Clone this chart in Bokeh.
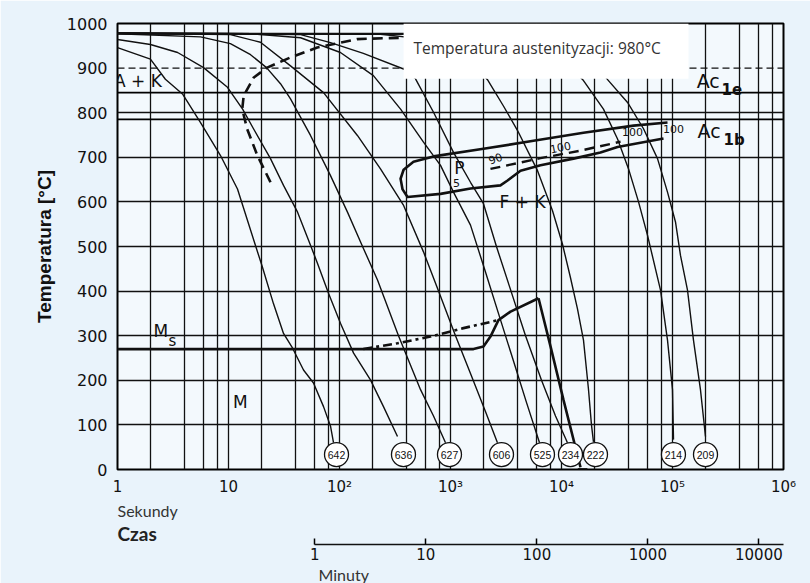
from bokeh.plotting import figure
from bokeh.models import FixedTicker, LogAxis, Range1d, LogScale, Label, Span, Title
from bokeh.core.properties import value
from bokeh.embed import file_html
from bokeh.resources import INLINE

# ---------------- data (time in seconds, temperature in deg C) ----------------
c642_t = [1, 1.98, 2.70, 3.85, 5.60, 8.47, 12.05, 17.1, 20.2, 25.4, 31.3, 37.8, 47.4, 58.3, 71.8, 83.0, 88.3]
c642_T = [946, 920, 875, 842, 778, 704, 629, 510, 454, 372, 305, 272, 223, 194, 141, 97, 60]

c636_t = [1, 1.98, 3.48, 5.96, 9.79, 13.4, 16.8, 23.9, 31.3, 41.9, 54.8, 63.4, 79.6, 102, 134, 190, 249, 333]
c636_T = [964, 953, 935, 901, 857, 808, 764, 697, 637, 577, 503, 462, 395, 328, 261, 201, 141, 74]

c627_t = [1, 5.60, 10.4, 15.8, 22.0, 29.4, 36.2, 54.8, 83.0, 118, 158, 220, 340, 537, 703, 902]
c627_T = [977, 970, 955, 930, 901, 865, 831, 749, 659, 577, 505, 425, 300, 179, 120, 60]

c606_t = [1, 10.4, 19.4, 36.2, 71.8, 145, 234, 378, 571, 780, 1109, 1514, 2065, 2649]
c606_T = [978, 975, 958, 905, 845, 749, 674, 592, 488, 400, 300, 215, 130, 60]

c525_t = [1, 15.8, 44.6, 102, 202, 355, 571, 813, 1064, 1514, 2023, 2704, 3622, 4842, 6339]
c525_T = [978, 977, 968, 935, 883, 808, 734, 682, 622, 548, 450, 350, 250, 150, 60]

c234_t = [1, 44.6, 83.0, 164, 378, 484, 703, 1064, 1514, 1982, 2594, 3404, 4742, 6607, 8831, 11320]
c234_T = [978, 975, 957, 933, 898, 876, 801, 711, 644, 596, 500, 410, 300, 200, 120, 60]

c222_t = [1, 234, 537, 1000, 1514, 2153, 2999, 4018, 6081, 8299, 10210, 12050, 13930, 15780, 17500, 18620, 19410]
c222_T = [978, 976, 966, 945, 918, 874, 815, 760, 670, 580, 505, 430, 360, 290, 180, 100, 62]

c214_t = [1, 1862, 5260, 9795, 15780, 23880, 31990, 40180, 49430, 59570, 77980, 90160, 100000, 102100]
c214_T = [978, 976, 960, 925, 872, 808, 741, 674, 600, 525, 402, 290, 179, 67]

c209_t = [1, 4276, 9795, 18250, 26490, 39360, 54830, 73280, 90160, 106400, 118000, 136500, 154500, 178600, 198200]
c209_T = [978, 976, 960, 920, 872, 823, 764, 697, 622, 555, 480, 402, 290, 179, 74]

# hardness (HV) at the end of each cooling curve
hv_labels = ["642", "636", "627", "606", "525", "234", "222", "214", "209"]
hv_t = [94, 377, 979, 2880, 6740, 12050, 20240, 102000, 198300]
hv_T = [33.5] * 9

# austenitising temperature line
aust_t = [1, 1000]
aust_T = [977, 977]
ac1e_T = 845
ac1b_T = 785

# A+K boundary (dashed)
ak_t = [23.9, 18.2, 14.7, 13.3, 13.7, 16.9, 22.3, 36.2, 63.0, 102, 144, 355]
ak_T = [644, 704, 764, 808, 838, 879, 901, 924, 946, 957, 965, 968]

# pearlite (P) region boundary
p_t = [90160, 44570, 15780, 5598, 1982, 703, 464, 378, 355, 370, 410, 813, 1514, 2818, 3266, 4276, 6471, 12820, 22430, 31990, 82990]
p_T = [778, 771, 755, 737, 719, 702, 690, 672, 652, 628, 611, 618, 630, 637, 648, 670, 682, 697, 711, 723, 742]

# 90 % / 100 % line inside P region
p100_t = [2291, 6471, 14830, 34040]
p100_T = [674, 698, 715, 735]

# Ms line and bainite region
ms_t = [1, 1611, 1982, 2291, 2704, 3475, 6209]
ms_T = [270, 270, 276, 298, 335, 354, 384]
bs_t = [164, 333, 661, 1309, 2704]
bs_T = [270, 283, 298, 317, 335]
bf_t = [6209, 7962, 10420, 14830]
bf_T = [384, 276, 156, 5]
arrow_t = [15500]
arrow_T = [-4]

sec_ticks = [1, 10, 100, 1000, 10000, 100000, 1000000]
sec_labels = ["1", "10", "10²", "10³", "10⁴", "10⁵", "10⁶"]
min_ticks = [1, 10, 100, 1000, 10000]
min_labels = ["1", "10", "100", "1000", "10000"]
temp_ticks = list(range(0, 1001, 100))
grid_mult = [1, 2, 4, 6, 8]

# ---------------- figure ----------------
p = figure(width=810, height=583, x_axis_type="log", x_range=(1, 1e6), y_range=(0, 1000),
           output_backend="svg", toolbar_location=None,
           min_border_left=117, min_border_right=27, min_border_top=23, min_border_bottom=113)
p.border_fill_color = "#e9f3fb"
p.background_fill_color = "#f3f9fd"
p.outline_line_color = "black"
p.outline_line_width = 2

grid_x = [m * 10 ** k for k in range(6) for m in grid_mult] + [10 ** 6]
p.xgrid.ticker = FixedTicker(ticks=grid_x)
p.xgrid.grid_line_color = "#111111"
p.xgrid.grid_line_width = 1.3
p.ygrid.ticker = FixedTicker(ticks=[v for v in temp_ticks if v != 900])
p.ygrid.grid_line_color = "#111111"
p.ygrid.grid_line_width = 1.3

p.add_layout(Span(location=900, dimension="width", line_color="#111111", line_width=1.3,
                  line_dash="7 4", level="underlay"))
for loc in (ac1e_T, ac1b_T):
    p.add_layout(Span(location=loc, dimension="width", line_color="black", line_width=1.6,
                      level="underlay"))

# y axis
ya = p.yaxis[0]
ya.ticker = FixedTicker(ticks=temp_ticks)
ya.axis_label = "Temperatura [°C]"
ya.axis_label_text_font = "Liberation Sans"
ya.axis_label_text_font_style = "bold"
ya.axis_label_text_font_size = "19px"
ya.axis_label_text_color = "#111111"
ya.axis_label_standoff = 9
ya.major_label_text_font = "DejaVu Sans"
ya.major_label_text_font_size = "16px"
ya.major_label_text_color = "#111111"
ya.major_label_standoff = 4
ya.major_tick_line_color = None
ya.minor_tick_line_color = None
ya.axis_line_color = None

# x axis (seconds)
xa = p.xaxis[0]
xa.ticker = FixedTicker(ticks=sec_ticks)
xa.major_label_overrides = dict(zip(sec_ticks, sec_labels))
xa.major_label_text_font = "DejaVu Sans"
xa.major_label_text_font_size = "15px"
xa.major_label_text_color = "#111111"
xa.major_label_standoff = 2
xa.major_tick_line_color = None
xa.minor_tick_line_color = None
xa.axis_line_color = None

# texts under the x axis (stacked in the lower panel)
p.add_layout(Title(text="Sekundy", align="left", standoff=0, text_font="Lato",
                   text_font_size="16px", text_font_style="normal", text_color="#333333"), "below")
p.add_layout(Title(text="Czas", align="left", standoff=0, text_font="Lato",
                   text_font_size="19px", text_font_style="bold", text_color="#222222"), "below")

# minutes axis
p.extra_x_ranges = {"min": Range1d(1 / 60, 1e6 / 60)}
p.extra_x_scales = {"min": LogScale()}
ma = LogAxis(x_range_name="min", ticker=FixedTicker(ticks=min_ticks), bounds=(1, 1e6 / 60))
ma.major_label_overrides = dict(zip(min_ticks, min_labels))
ma.major_label_text_font = "DejaVu Sans"
ma.major_label_text_font_size = "15px"
ma.major_label_text_color = "#111111"
ma.major_label_standoff = 3
ma.major_tick_in = 6
ma.major_tick_out = 0
ma.major_tick_line_width = 1.5
ma.minor_tick_line_color = None
ma.axis_line_width = 1.5
ma.axis_line_color = "#111111"
p.add_layout(ma, "below")

p.add_layout(Title(text="Minuty", align="left", offset=201, standoff=0, text_font="Lato",
                   text_font_size="16px", text_font_style="normal", text_color="#333333"), "below")

# cooling curves
curves = [(c642_t, c642_T), (c636_t, c636_T), (c627_t, c627_T), (c606_t, c606_T), (c525_t, c525_T),
          (c234_t, c234_T), (c222_t, c222_T), (c214_t, c214_T), (c209_t, c209_T)]
for ct, cT in curves:
    p.line(ct, cT, line_color="#111111", line_width=1.4, line_join="round")

p.line(aust_t, aust_T, line_color="#111111", line_width=1.8)
p.line(ak_t, ak_T, line_color="#111111", line_width=2.6, line_dash="10 6")
p.line(p_t, p_T, line_color="#111111", line_width=2.6, line_join="round")
p.line(p100_t, p100_T, line_color="#111111", line_width=2.4, line_dash="10 6")
p.line(ms_t, ms_T, line_color="#111111", line_width=2.6, line_join="round")
p.line(bs_t, bs_T, line_color="#111111", line_width=2.6, line_dash="9 4 3 4")
p.line(bf_t, bf_T, line_color="#111111", line_width=2.6)
p.scatter(arrow_t, arrow_T, marker="inverted_triangle", size=9, color="#111111")

# white box behind the austenitising note
p.quad(left=[378], right=[139300], bottom=[876], top=[1000], fill_color="white", line_color=None)

# hardness circles
p.scatter(hv_t, hv_T, marker="circle", size=24, fill_color="white", line_color="#111111", line_width=1.3)
p.text(hv_t, hv_T, text=hv_labels, text_align="center", text_baseline="middle",
       text_font=value("Liberation Sans"), text_font_size="10.5px", text_color="#111111")


def lab(text, x, y, size, align="left", font="DejaVu Sans", style="normal", color="#111111", angle=0):
    p.add_layout(Label(x=x, y=y, text=text, text_align=align, text_baseline="middle",
                       text_font=font, text_font_size=size, text_font_style=style,
                       text_color=color, angle=angle))


lab("Temperatura austenityzacji: 980°C", 464, 945, "15.5px", font="Open Sans", color="#333333")
lab("A + K", 0.93, 871, "17px")
lab("Ac", 165000, 871, "19px")
lab("1e", 276000, 853, "15px", style="bold")
lab("Ac", 168000, 760, "19px")
lab("1b", 287700, 738, "15px", style="bold")
lab("M", 2.11, 311, "17px")
lab("s", 2.88, 288, "15px")
lab("M", 12.8, 152, "17px", align="center")
lab("P", 1205, 677, "17px", align="center")
lab("5", 1132, 642, "11px", align="center")
lab("F + K", 4457, 599, "17px", align="center")
lab("90", 2541, 697, "11px", align="center", angle=0.35)
lab("100", 9795, 722, "11px", align="center", angle=0.2)
lab("100", 43650, 757, "11px", align="center")
lab("100", 102100, 764, "11px", align="center")

open("out.html", "w").write(file_html(p, INLINE))
